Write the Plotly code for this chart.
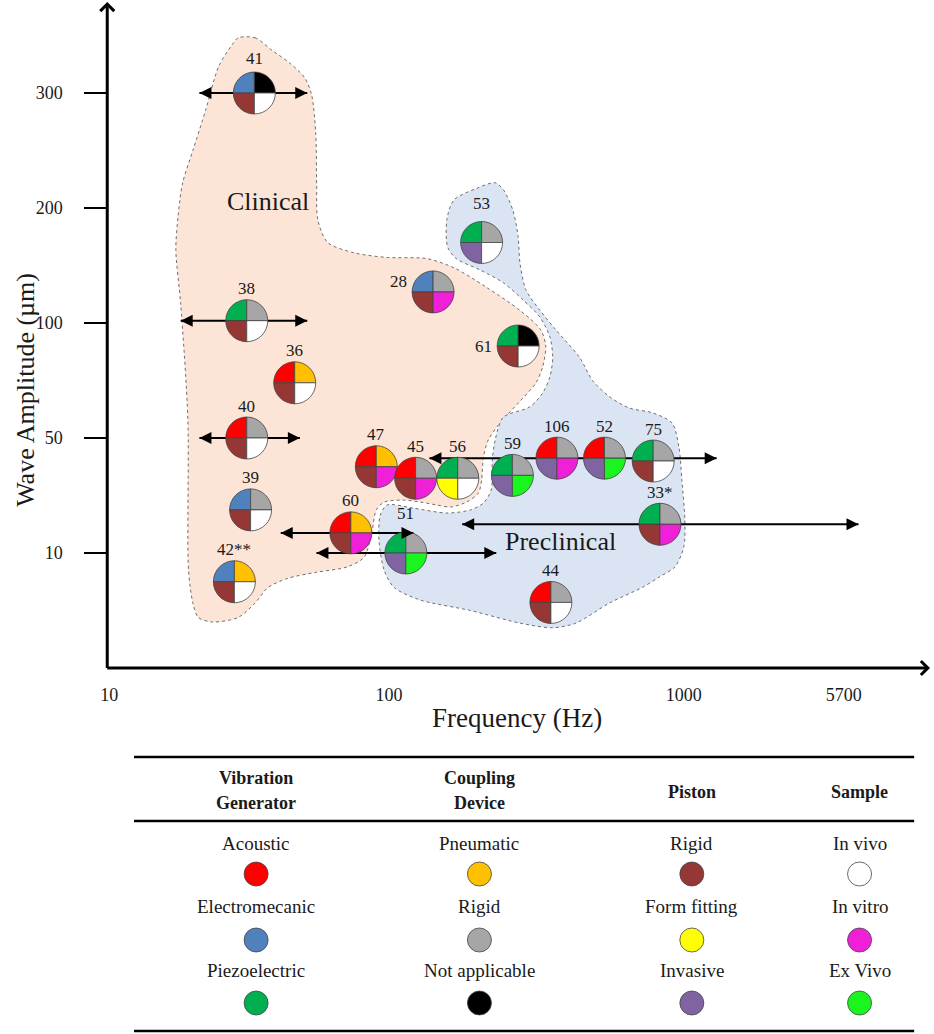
import numpy as np
import plotly.graph_objects as go

# ---------------- data ----------------
study_ids = ["41", "38", "36", "28", "53", "61", "40", "39", "42**", "60",
             "51", "47", "45", "56", "59", "106", "52", "75", "33*", "44"]
freq_hz = [33, 31, 46, 141, 206, 274, 31, 32, 28, 73,
           114, 90, 123, 171, 262, 371, 538, 787, 830, 354]
amp_um = [300, 102, 74, 127, 170, 90, 50, 25, 7.5, 17,
          10, 40, 36, 36, 37, 43, 43, 42, 20, 5.7]
generator = ["Electromecanic", "Piezoelectric", "Acoustic", "Electromecanic", "Piezoelectric",
             "Piezoelectric", "Acoustic", "Electromecanic", "Electromecanic", "Acoustic",
             "Piezoelectric", "Acoustic", "Acoustic", "Piezoelectric", "Piezoelectric",
             "Acoustic", "Acoustic", "Piezoelectric", "Piezoelectric", "Acoustic"]
coupling = ["Not applicable", "Rigid", "Pneumatic", "Rigid", "Rigid",
            "Not applicable", "Rigid", "Rigid", "Pneumatic", "Pneumatic",
            "Rigid", "Pneumatic", "Rigid", "Rigid", "Rigid",
            "Rigid", "Rigid", "Rigid", "Rigid", "Rigid"]
piston = ["Rigid", "Rigid", "Rigid", "Rigid", "Invasive",
          "Rigid", "Rigid", "Rigid", "Rigid", "Rigid",
          "Invasive", "Rigid", "Rigid", "Form fitting", "Invasive",
          "Invasive", "Invasive", "Rigid", "Rigid", "Rigid"]
sample = ["In vivo", "In vivo", "In vivo", "In vitro", "In vivo",
          "In vivo", "In vivo", "In vivo", "In vivo", "In vitro",
          "Ex Vivo", "In vitro", "In vitro", "In vivo", "Ex Vivo",
          "In vitro", "Ex Vivo", "In vivo", "In vitro", "In vivo"]

# frequency ranges (double arrows)
range_ids = ["41", "38", "40", "60", "51", "52", "33*"]
range_lo_hz = [21, 18, 21, 41, 55, 137, 177]
range_hi_hz = [51, 51, 48, 121, 231, 1430, 6700]
range_amp_um = [300, 102, 50, 17, 10, 43, 20]

# study regions (outline vertices, Hz / um)
clinical_hz = [28.9, 33.2, 38.2, 44.2, 50, 52.9, 54.7, 55.1, 55.6, 60.3, 75.1, 98.4, 134, 166,
               214, 278, 327, 340, 332, 315, 278, 238, 217, 209, 206, 201, 183, 162, 145, 128,
               112, 96, 90, 87, 81.5, 71, 54.2, 43.5, 36.9, 33.2, 28.9, 23.4, 20.8, 19.9, 19.2,
               19.1, 18.0, 17.3, 17.6, 18.3, 19.9, 22.1, 24.6, 27.5]
clinical_um = [348, 348, 337, 326, 313, 298, 264, 220, 190, 170, 161, 157, 156, 148,
               131, 111, 97, 90, 81, 74, 66, 56.5, 49.3, 43.4, 35.4, 30.9, 27.7, 26, 26.7, 27.7,
               28.4, 27.7, 25, 18, 9.65, 8.8, 8.3, 7.8, 7.0, 5.65, 4.4, 4.0, 4.4, 5.65, 8.5,
               57.8, 117, 163, 192, 222, 250, 285, 323, 342]
preclinical_hz = [229, 244, 263, 274, 278, 291, 325, 368, 443, 490, 559, 653, 780, 912, 962,
                  985, 1011, 1000, 933, 824, 722, 559, 430, 359, 278, 189, 128, 104, 96, 92,
                  93, 98.4, 121, 157, 189, 209, 222, 224, 229, 244, 300, 332, 351, 359, 351,
                  325, 285, 244, 204, 169, 158, 157, 166, 198]
preclinical_um = [222, 216, 198, 175, 152, 129, 111, 97, 85, 75, 68, 63, 61, 56.5, 46.9,
                  35.4, 21.5, 12.1, 8.8, 7.9, 7.0, 5.65, 3.9, 3.5, 3.9, 5.0, 5.9, 7.0, 8.5, 14.5,
                  23.2, 26.7, 25.6, 23.9, 25, 27.4, 31.9, 42.4, 49.3, 59, 63.5, 69.6, 76.5, 85, 94,
                  105, 120, 135, 146, 156, 166, 190, 207, 217]
region_labels = ["Clinical", "Preclinical"]
region_label_hz = [36.9, 382]
region_label_um = [206, 14]

# axis ladders (the chart's axes are schematic)
x_tick_hz = [10, 100, 1000, 5700]
x_tick_labels = ["10", "100", "1000", "5700"]
y_tick_um = [10, 50, 100, 200, 300]
y_tick_labels = ["10", "50", "100", "200", "300"]

# legend table
legend_headers = ["Vibration\nGenerator", "Coupling\nDevice", "Piston", "Sample"]
legend_items = [["Acoustic", "Electromecanic", "Piezoelectric"],
                ["Pneumatic", "Rigid", "Not applicable"],
                ["Rigid", "Form fitting", "Invasive"],
                ["In vivo", "In vitro", "Ex Vivo"]]

COLORS = [
    {"Acoustic": "#FF0000", "Electromecanic": "#4F81BD", "Piezoelectric": "#00B050"},
    {"Pneumatic": "#FFC000", "Rigid": "#A6A6A6", "Not applicable": "#000000"},
    {"Rigid": "#953735", "Form fitting": "#FFFF00", "Invasive": "#8064A2"},
    {"In vivo": "#FFFFFF", "In vitro": "#F01FD8", "Ex Vivo": "#1AF520"},
]

# ---------------- scales ----------------
W, H = 934, 1034
X_TICK_POS = [0.0, 1.0, 2.053, 2.624]
Y_STOPS = [0] + y_tick_um
Y_POS = [-1, 0, 1, 2, 3, 4]


def ladder(v, stops, pos, log):
    v = np.asarray(v, float)
    s = np.log10(stops) if log else np.asarray(stops, float)
    t = np.log10(v) if log else v
    p = np.asarray(pos, float)
    i = np.clip(np.searchsorted(s, t, side="right") - 1, 0, len(s) - 2)
    return p[i] + (t - s[i]) * (p[i + 1] - p[i]) / (s[i + 1] - s[i])


def xp(v):
    return ladder(v, x_tick_hz, X_TICK_POS, True)


def yp(v):
    return ladder(v, Y_STOPS, Y_POS, False)


FONT = "Liberation Serif"
TXT = "#1a1a1a"
CENTER = dict(xanchor="center", yanchor="middle")

AX_L, AX_R, AX_B = 101, 930, 668
fig = go.Figure()

# regions
fills = ["rgba(252,228,214,1)", "rgba(219,228,242,1)"]
for (hz, um), fc in zip([(clinical_hz, clinical_um), (preclinical_hz, preclinical_um)], fills):
    xs, ys = xp(hz), yp(um)
    fig.add_trace(go.Scatter(
        x=list(xs) + [xs[0]], y=list(ys) + [ys[0]],
        mode="lines", fill="toself", fillcolor=fc,
        line=dict(color="#6f6f6f", width=1, dash="dot", shape="spline", smoothing=0.8),
        hoverinfo="skip", showlegend=False))

for lab, hz, um in zip(region_labels, region_label_hz, region_label_um):
    fig.add_annotation(x=float(xp(hz)), y=float(yp(um)), text=lab, showarrow=False,
                       font=dict(family=FONT, size=26, color=TXT), **CENTER)

# range arrows: shafts as lines (under the glyphs), heads as annotations
for lo, hi, a in zip(range_lo_hz, range_hi_hz, range_amp_um):
    x_lo, x_hi, y_a = float(xp(lo)), float(xp(hi)), float(yp(a))
    fig.add_trace(go.Scatter(x=[x_lo, x_hi], y=[y_a, y_a], mode="lines",
                             line=dict(color="black", width=2), hoverinfo="skip",
                             showlegend=False))
    for xh, off in [(x_hi, -12), (x_lo, 12)]:
        fig.add_annotation(x=xh, y=y_a, ax=off, ay=0, xref="x", yref="y", text="",
                           showarrow=True, arrowhead=2, arrowwidth=2, arrowsize=1.2,
                           arrowcolor="black", standoff=0)

# pie glyphs
R = 21
K = round(0.5523 * R, 2)
quad_paths = [
    f"M0,0 L-{R},0 C-{R},{K} -{K},{R} 0,{R} Z",     # top-left: generator
    f"M0,0 L0,{R} C{K},{R} {R},{K} {R},0 Z",        # top-right: coupling
    f"M0,0 L0,-{R} C-{K},-{R} -{R},-{K} -{R},0 Z",  # bottom-left: piston
    f"M0,0 L{R},0 C{R},-{K} {K},-{R} 0,-{R} Z",     # bottom-right: sample
]
shapes = []
px_all, py_all = xp(freq_hz), yp(amp_um)
for j in range(len(study_ids)):
    cats = [generator[j], coupling[j], piston[j], sample[j]]
    for q in range(4):
        shapes.append(dict(type="path", xref="x", yref="y", xsizemode="pixel", ysizemode="pixel",
                           xanchor=float(px_all[j]), yanchor=float(py_all[j]), path=quad_paths[q],
                           fillcolor=COLORS[q][cats[q]], line=dict(color="#444444", width=0.8),
                           layer="above"))

# study labels
label_shift = {"28": (-35, 10), "61": (-35, 0), "51": (0, 40), "53": (0, 39), "41": (0, 35)}
for j, sid in enumerate(study_ids):
    dx, dy = label_shift.get(sid, (0, 32))
    fig.add_annotation(x=float(px_all[j]), y=float(py_all[j]), text=sid, showarrow=False,
                       xshift=dx, yshift=dy, font=dict(family=FONT, size=17, color=TXT), **CENTER)

# axis arrows (in axis-domain coordinates)
dom_w = AX_R - AX_L
dom_h = AX_B
fig.add_annotation(x=1, y=0, ax=-1.5 / dom_w, ay=0, xref="x domain", yref="y domain",
                   axref="x domain", ayref="y domain", text="", showarrow=True,
                   arrowhead=4, arrowwidth=3, arrowsize=0.9, arrowcolor="black")
fig.add_annotation(x=0, y=1 - 2 / dom_h, ax=0, ay=-1.5 / dom_h, xref="x domain", yref="y domain",
                   axref="x domain", ayref="y domain", text="", showarrow=True,
                   arrowhead=4, arrowwidth=3, arrowsize=0.9, arrowcolor="black")


def pxx(v):
    return v / W


def pyy(v):
    return 1 - v / H


# axis titles
fig.add_annotation(x=pxx(514), y=pyy(718), xref="paper", yref="paper", text="Frequency (Hz)",
                   showarrow=False, font=dict(family=FONT, size=27, color=TXT), **CENTER)
fig.add_annotation(x=pxx(18), y=pyy(390), xref="paper", yref="paper", text="Wave Amplitude (µm)",
                   textangle=-90, showarrow=False, font=dict(family=FONT, size=26, color=TXT),
                   **CENTER)

# ---------------- legend table ----------------
col_x = [251, 476, 690, 859]
for yline in [757, 821, 1031]:
    shapes.append(dict(type="line", xref="paper", yref="paper", x0=pxx(128), x1=pxx(914),
                       y0=pyy(yline), y1=pyy(yline), line=dict(color="black", width=2.5)))
row_label_y = [843, 906, 970]
row_dot_y = [874, 940, 1003]
for c, (hdr, items) in enumerate(zip(legend_headers, legend_items)):
    lines = hdr.split("\n")
    ys = [778, 803] if len(lines) == 2 else [792]
    for t, yy in zip(lines, ys):
        fig.add_annotation(x=pxx(col_x[c]), y=pyy(yy), xref="paper", yref="paper",
                           text=f"<b>{t}</b>", showarrow=False,
                           font=dict(family=FONT, size=18, color=TXT), **CENTER)
    for r, it in enumerate(items):
        fig.add_annotation(x=pxx(col_x[c]), y=pyy(row_label_y[r]), xref="paper", yref="paper",
                           text=it, showarrow=False, font=dict(family=FONT, size=19, color=TXT),
                           **CENTER)
        shapes.append(dict(type="circle", xref="paper", yref="paper", xsizemode="pixel",
                           ysizemode="pixel", xanchor=pxx(col_x[c]), yanchor=pyy(row_dot_y[r]),
                           x0=-12, x1=12, y0=-12, y1=12, fillcolor=COLORS[c][it],
                           line=dict(color="#444444", width=0.8)))

# ---------------- layout ----------------
x_unit = 282.0
x_range = [(AX_L - 103) / x_unit, (AX_R - 103) / x_unit]
y_unit = 115.0
y_range = [-(AX_B - 553) / y_unit, 553 / y_unit]

fig.update_layout(
    width=W, height=H, margin=dict(l=0, r=0, t=0, b=0),
    paper_bgcolor="white", plot_bgcolor="white", showlegend=False,
    shapes=shapes,
    xaxis=dict(domain=[AX_L / W, AX_R / W], range=x_range, showgrid=False, zeroline=False,
               showline=False, ticks="", tickvals=list(xp(x_tick_hz)), ticktext=x_tick_labels,
               tickfont=dict(family=FONT, size=18, color=TXT), ticklabelstandoff=14,
               fixedrange=True),
    yaxis=dict(domain=[1 - AX_B / H, 1], range=y_range, showgrid=False, zeroline=False,
               showline=False, ticks="outside", ticklen=22, tickwidth=2, tickcolor="black",
               tickvals=list(yp(y_tick_um)), ticktext=y_tick_labels,
               tickfont=dict(family=FONT, size=18, color=TXT), ticklabelstandoff=18,
               fixedrange=True),
)

fig.write_html("out.html", config={"displayModeBar": False},
               post_script="document.body.style.margin='0';document.body.style.overflow='hidden';")
